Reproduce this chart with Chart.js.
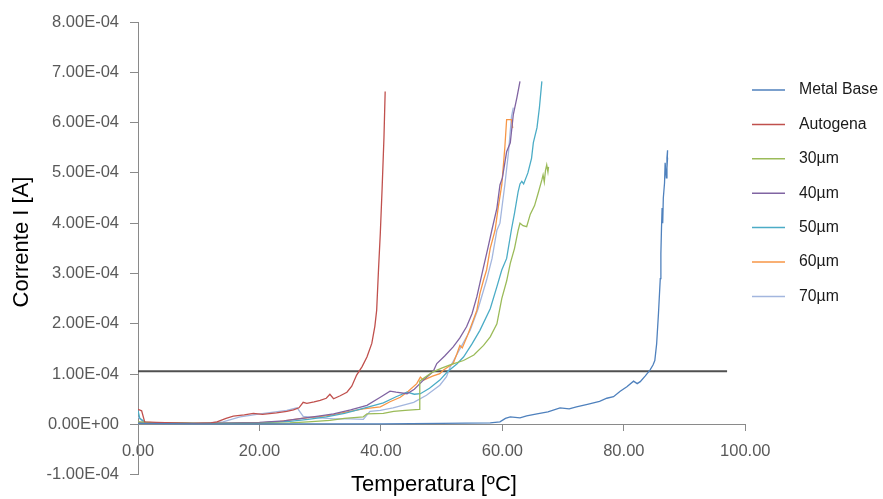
<!DOCTYPE html>
<html>
<head>
<meta charset="utf-8">
<script src="https://cdn.jsdelivr.net/npm/chart.js@4.4.1/dist/chart.umd.min.js"></script>
<style>
  html, body { margin: 0; padding: 0; background: #fff; }
</style>
</head>
<body>
<canvas id="grafico" width="883" height="499"></canvas>
<script>
// Curvas corrente x temperatura para cada amostra (temperatura em ºC, corrente em A)
var seriesNames = ['Metal Base', 'Autogena', '30µm', '40µm', '50µm', '60µm', '70µm'];
var seriesColors = ['#4f81bd', '#c0504d', '#9bbb59', '#8064a2', '#4bacc6', '#f79646', '#a3b6de'];

var metalBaseT = [0, 10, 20, 30, 40, 50, 58, 59.6, 60.5, 61.3, 62.9, 64, 65.7, 67.5, 69.5, 71, 72.2, 74, 76, 77.2, 78.3, 79.4, 80.5, 81.6, 82.2, 82.7, 83.5, 84.3, 84.8, 85.1, 85.4, 85.7, 86.0, 86.1, 86.2, 86.3, 86.4, 86.5, 86.7, 86.8, 87.0, 87.1, 87.2, 87.1, 87.2];
var metalBaseI = [0.02e-4, 0.01e-4, 0.01e-4, 0.01e-4, 0.01e-4, 0.02e-4, 0.03e-4, 0.05e-4, 0.12e-4, 0.15e-4, 0.13e-4, 0.17e-4, 0.21e-4, 0.25e-4, 0.33e-4, 0.31e-4, 0.35e-4, 0.40e-4, 0.46e-4, 0.52e-4, 0.55e-4, 0.66e-4, 0.75e-4, 0.86e-4, 0.81e-4, 0.85e-4, 0.96e-4, 1.08e-4, 1.18e-4, 1.27e-4, 1.60e-4, 2.20e-4, 2.90e-4, 3.40e-4, 3.90e-4, 4.30e-4, 4.00e-4, 4.50e-4, 4.80e-4, 5.20e-4, 4.90e-4, 5.30e-4, 5.45e-4, 5.10e-4, 5.30e-4];

var autogenaT = [0, 0.6, 1.1, 3, 6, 9, 12, 13, 14.5, 15.7, 17.5, 19, 20.5, 22.8, 24.5, 25.6, 26.5, 27.2, 27.8, 29, 30, 31.0, 31.6, 32.2, 33.3, 34.4, 35.2, 36.0, 36.9, 37.7, 38.5, 39.0, 39.3, 39.6, 39.9, 40.2, 40.5, 40.7];
var autogenaI = [0.30e-4, 0.27e-4, 0.05e-4, 0.04e-4, 0.03e-4, 0.02e-4, 0.03e-4, 0.05e-4, 0.12e-4, 0.165e-4, 0.19e-4, 0.22e-4, 0.20e-4, 0.23e-4, 0.26e-4, 0.29e-4, 0.33e-4, 0.44e-4, 0.42e-4, 0.45e-4, 0.48e-4, 0.52e-4, 0.60e-4, 0.51e-4, 0.57e-4, 0.64e-4, 0.76e-4, 0.98e-4, 1.15e-4, 1.34e-4, 1.61e-4, 1.95e-4, 2.27e-4, 3.07e-4, 3.80e-4, 4.70e-4, 5.70e-4, 6.62e-4];

var s30T = [0, 3, 10, 20, 25, 28, 31.6, 34, 37.1, 37.7, 40.4, 42.1, 44, 46.3, 46.4, 47.2, 48.5, 50, 51.5, 53.6, 55.3, 56.9, 58.0, 59.1, 59.9, 60.7, 61.3, 62.0, 62.6, 62.9, 63.4, 64.0, 64.6, 65.3, 65.9, 66.5, 66.7, 66.9, 67.1, 67.3, 67.5, 67.6];
var s30I = [0.05e-4, 0.03e-4, 0.02e-4, 0.02e-4, 0.03e-4, 0.05e-4, 0.08e-4, 0.12e-4, 0.15e-4, 0.21e-4, 0.22e-4, 0.26e-4, 0.28e-4, 0.30e-4, 0.86e-4, 0.93e-4, 1.04e-4, 1.12e-4, 1.19e-4, 1.27e-4, 1.38e-4, 1.57e-4, 1.74e-4, 2.00e-4, 2.50e-4, 2.85e-4, 3.20e-4, 3.50e-4, 3.86e-4, 4.00e-4, 3.95e-4, 3.93e-4, 4.18e-4, 4.35e-4, 4.60e-4, 4.86e-4, 4.96e-4, 4.82e-4, 5.05e-4, 5.16e-4, 5.02e-4, 5.12e-4];

var s40T = [0, 5, 10, 15, 20, 24, 27, 30, 32.2, 35, 37.7, 39.9, 41.5, 42.5, 44.3, 45.5, 47, 48.6, 49.2, 50.5, 51.9, 53.0, 54.1, 55.0, 55.8, 56.9, 57.6, 58.3, 59.1, 59.6, 60.0, 60.7, 61.3, 61.8, 62.4, 62.9];
var s40I = [0.04e-4, 0.02e-4, 0.02e-4, 0.03e-4, 0.04e-4, 0.07e-4, 0.12e-4, 0.17e-4, 0.21e-4, 0.29e-4, 0.38e-4, 0.54e-4, 0.66e-4, 0.64e-4, 0.61e-4, 0.70e-4, 0.88e-4, 1.05e-4, 1.21e-4, 1.36e-4, 1.54e-4, 1.72e-4, 1.94e-4, 2.20e-4, 2.54e-4, 3.13e-4, 3.50e-4, 3.88e-4, 4.30e-4, 4.76e-4, 4.90e-4, 5.42e-4, 5.60e-4, 6.16e-4, 6.50e-4, 6.82e-4];

var s50T = [0, 0.3, 1.2, 5, 10, 15, 20, 25, 28, 31, 34, 37.7, 40.4, 42.5, 44.3, 45.5, 46.5, 48, 49.7, 51, 52.5, 53.6, 55.0, 56.3, 58.0, 59.1, 59.9, 60.7, 61.5, 62.0, 62.6, 62.9, 63.2, 63.5, 64.2, 64.8, 65.1, 65.7, 66.1, 66.5];
var s50I = [0.28e-4, 0.12e-4, 0.04e-4, 0.03e-4, 0.02e-4, 0.02e-4, 0.03e-4, 0.06e-4, 0.10e-4, 0.15e-4, 0.22e-4, 0.34e-4, 0.43e-4, 0.55e-4, 0.64e-4, 0.60e-4, 0.61e-4, 0.72e-4, 0.88e-4, 1.05e-4, 1.20e-4, 1.34e-4, 1.60e-4, 1.87e-4, 2.30e-4, 2.74e-4, 3.07e-4, 3.30e-4, 3.88e-4, 4.20e-4, 4.63e-4, 4.78e-4, 4.83e-4, 4.78e-4, 5.00e-4, 5.29e-4, 5.60e-4, 5.90e-4, 6.30e-4, 6.82e-4];

var s60T = [0, 5, 10, 15, 20, 23.4, 27, 31.6, 34, 37.1, 39.9, 41.5, 43.2, 44.5, 45.9, 46.5, 47.0, 48.5, 49.7, 50.3, 51.9, 52.5, 53.0, 53.4, 54.2, 55.2, 55.8, 56.3, 56.9, 57.4, 58.0, 58.8, 59.3, 59.9, 60.4, 60.7, 61.0, 61.5, 61.7];
var s60I = [0.04e-4, 0.03e-4, 0.02e-4, 0.02e-4, 0.03e-4, 0.06e-4, 0.12e-4, 0.18e-4, 0.24e-4, 0.31e-4, 0.35e-4, 0.45e-4, 0.54e-4, 0.66e-4, 0.81e-4, 0.94e-4, 0.88e-4, 0.96e-4, 1.01e-4, 1.08e-4, 1.21e-4, 1.40e-4, 1.57e-4, 1.52e-4, 1.75e-4, 2.07e-4, 2.27e-4, 2.60e-4, 2.87e-4, 3.07e-4, 3.50e-4, 3.86e-4, 4.30e-4, 4.76e-4, 5.50e-4, 6.06e-4, 6.06e-4, 6.06e-4, 5.89e-4];

var s70T = [0, 1.0, 5, 10, 14, 16.8, 18.5, 20.1, 22, 24.5, 26.2, 27.2, 29, 32.2, 35, 37.1, 38.2, 39.9, 42, 45.4, 47.5, 49.7, 50.8, 51.4, 53.0, 54.7, 56.0, 57.4, 58.3, 59.1, 59.6, 60.4, 61.0, 61.5, 61.8];
var s70I = [0.15e-4, 0.03e-4, 0.02e-4, 0.02e-4, 0.05e-4, 0.15e-4, 0.18e-4, 0.21e-4, 0.24e-4, 0.28e-4, 0.33e-4, 0.16e-4, 0.14e-4, 0.11e-4, 0.11e-4, 0.10e-4, 0.26e-4, 0.28e-4, 0.33e-4, 0.44e-4, 0.58e-4, 0.78e-4, 0.95e-4, 1.14e-4, 1.50e-4, 1.87e-4, 2.30e-4, 2.87e-4, 3.30e-4, 3.86e-4, 4.00e-4, 4.76e-4, 5.40e-4, 6.12e-4, 6.30e-4];

// Linha de referência horizontal
var limiarT = [0, 97];
var limiarI = [1.056e-4, 1.056e-4];

// Marcas dos eixos
var xTicks = [0, 20, 40, 60, 80, 100];
var yTicks = [-1e-4, 0, 1e-4, 2e-4, 3e-4, 4e-4, 5e-4, 6e-4, 7e-4, 8e-4];

var allT = [metalBaseT, autogenaT, s30T, s40T, s50T, s60T, s70T];
var allI = [metalBaseI, autogenaI, s30I, s40I, s50I, s60I, s70I];

function toPoints(t, i) {
    return t.map(function (x, k) { return { x: x, y: i[k] }; });
}

function formatExp(v) {
    if (Math.abs(v) < 1e-12) return '0.00E+00';
    var s = v.toExponential(2).toUpperCase();
    var parts = s.split('E');
    var exp = parseInt(parts[1], 10);
    var sign = exp < 0 ? '-' : '+';
    var e = Math.abs(exp);
    return parts[0] + 'E' + sign + (e < 10 ? '0' : '') + e;
}

var fonte = '"Liberation Sans", Arial, sans-serif';

var datasets = seriesNames.map(function (name, k) {
    return {
        label: name,
        data: toPoints(allT[k], allI[k]),
        borderColor: seriesColors[k],
        borderWidth: 1.3,
        pointRadius: 0,
        tension: 0,
        fill: false
    };
});
datasets.push({
    label: 'limiar',
    data: toPoints(limiarT, limiarI),
    borderColor: '#505050',
    borderWidth: 2,
    pointRadius: 0,
    fill: false
});

// Legenda à direita e títulos dos eixos
var extras = {
    id: 'extras',
    afterDraw: function (chart) {
        var ctx = chart.ctx;
        ctx.save();
        ctx.font = '15.8px ' + fonte;
        ctx.textBaseline = 'middle';
        ctx.textAlign = 'left';
        seriesNames.forEach(function (name, i) {
            var y = 90 + i * 34.4;
            ctx.strokeStyle = seriesColors[i];
            ctx.lineWidth = 1.5;
            ctx.beginPath();
            ctx.moveTo(752, y);
            ctx.lineTo(785, y);
            ctx.stroke();
            ctx.fillStyle = '#1a1a1a';
            ctx.fillText(name, 799, y);
        });

        ctx.fillStyle = '#000';
        ctx.font = '22px ' + fonte;
        ctx.textAlign = 'center';
        ctx.fillText('Temperatura [ºC]', 434, 485);

        ctx.translate(22, 242);
        ctx.rotate(-Math.PI / 2);
        ctx.fillText('Corrente I [A]', 0, 0);
        ctx.restore();
    }
};

var ctx = document.getElementById('grafico').getContext('2d');
var grafico = new Chart(ctx, {
    type: 'line',
    data: { datasets: datasets },
    plugins: [extras],
    options: {
        responsive: false,
        animation: false,
        layout: { padding: { left: 0, top: 22, right: 137.7, bottom: 24.3 } },
        plugins: {
            legend: { display: false },
            tooltip: { enabled: false }
        },
        scales: {
            x: {
                type: 'linear',
                min: 0,
                max: 100,
                position: { y: 0 },
                afterBuildTicks: function (scale) {
                    scale.ticks = xTicks.map(function (v) { return { value: v }; });
                },
                grid: { drawOnChartArea: false, color: '#8a8a8a', tickLength: 6 },
                border: { color: '#8a8a8a', width: 1 },
                ticks: {
                    padding: 11,
                    color: '#595959',
                    font: { family: fonte, size: 16.5 },
                    maxRotation: 0,
                    callback: function (v) { return Number(v).toFixed(2); }
                }
            },
            y: {
                type: 'linear',
                min: -1e-4,
                max: 8e-4,
                afterBuildTicks: function (scale) {
                    scale.ticks = yTicks.map(function (v) { return { value: v }; });
                },
                afterFit: function (scale) { scale.width = 138; },
                grid: { drawOnChartArea: false, color: '#8a8a8a', tickLength: 8 },
                border: { color: '#8a8a8a', width: 1 },
                ticks: {
                    padding: 11,
                    color: '#595959',
                    font: { family: fonte, size: 16.5 },
                    callback: function (v) { return formatExp(v); }
                }
            }
        }
    }
});
</script>
</body>
</html>
